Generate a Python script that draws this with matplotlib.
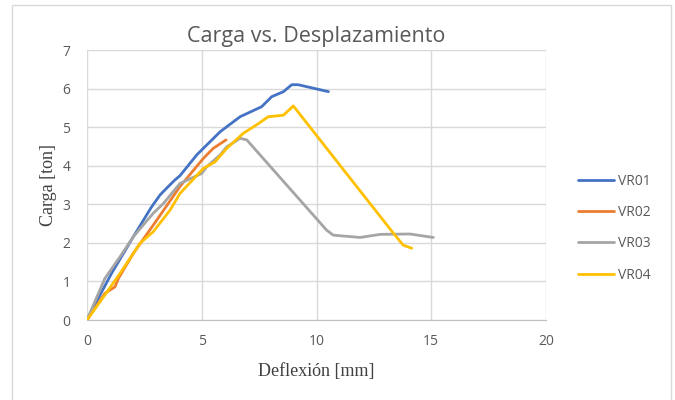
import matplotlib
matplotlib.use("Agg")
import matplotlib.pyplot as plt
from matplotlib.patches import Rectangle

# Load-deflection data per specimen (deflection in mm, load in ton)
vr01_x = [0.0, 0.57, 1.07, 2.02, 2.8, 3.18, 3.54, 3.83, 4.05, 4.78, 5.8, 6.67, 7.61, 8.05, 8.56, 8.92, 9.2, 10.52]
vr01_y = [0.0, 0.65, 1.21, 2.16, 2.92, 3.24, 3.46, 3.63, 3.74, 4.28, 4.88, 5.27, 5.53, 5.79, 5.92, 6.10, 6.10, 5.92]

vr02_x = [0.0, 0.78, 1.22, 1.37, 2.02, 3.04, 4.05, 5.07, 5.5, 6.06]
vr02_y = [0.0, 0.69, 0.86, 1.08, 1.73, 2.59, 3.46, 4.19, 4.45, 4.67]

vr03_x = [0.0, 0.78, 1.44, 2.02, 2.89, 3.33, 4.05, 5.0, 5.21, 5.8, 6.09, 6.67, 6.96, 10.44, 10.73, 11.9, 12.77, 14.07, 15.09]
vr03_y = [0.0, 1.08, 1.64, 2.16, 2.77, 3.02, 3.54, 3.80, 3.97, 4.28, 4.49, 4.71, 4.67, 2.33, 2.20, 2.14, 2.22, 2.23, 2.14]

vr04_x = [0.0, 0.78, 1.44, 2.31, 2.89, 3.62, 4.05, 5.07, 5.58, 6.09, 6.81, 7.39, 7.9, 8.56, 8.99, 13.35, 13.78, 14.15]
vr04_y = [0.0, 0.65, 1.21, 1.99, 2.29, 2.85, 3.28, 3.93, 4.10, 4.45, 4.84, 5.06, 5.27, 5.31, 5.55, 2.25, 1.94, 1.86]

series = [
    ("VR01", vr01_x, vr01_y, "#4472C4"),
    ("VR02", vr02_x, vr02_y, "#ED7D31"),
    ("VR03", vr03_x, vr03_y, "#A5A5A5"),
    ("VR04", vr04_x, vr04_y, "#FFC000"),
]

x_ticks = [0, 5, 10, 15, 20]
y_ticks = [0, 1, 2, 3, 4, 5, 6, 7]

fig = plt.figure(figsize=(6.75, 4.0), dpi=100)
fig.patches.append(Rectangle((12 / 675, -0.05), 659 / 675, 1.05 - 5 / 400,
                             transform=fig.transFigure, fill=False,
                             edgecolor="#D9D9D9", linewidth=1.0))

ax = fig.add_axes([87 / 675, 80 / 400, 459 / 675, 270 / 400])

for name, xs, ys, color in series:
    ax.plot(xs, ys, color=color, linewidth=2.0, label=name,
            solid_joinstyle="round", solid_capstyle="round")

ax.set_xlim(0, 20)
ax.set_ylim(0, 7)
ax.set_xticks(x_ticks)
ax.set_yticks(y_ticks)
ax.grid(True, color="#D9D9D9", linewidth=1.0)
ax.set_axisbelow(True)
for side in ("top", "right", "left"):
    ax.spines[side].set_visible(False)
ax.spines["bottom"].set_color("#BFBFBF")
ax.tick_params(length=0, labelsize=10, labelcolor="#595959")
ax.tick_params(axis="x", pad=10)
ax.tick_params(axis="y", pad=12)
for lbl in ax.get_xticklabels() + ax.get_yticklabels():
    lbl.set_family("Open Sans")

ax.set_title("Carga vs. Desplazamiento", fontsize=15.5, color="#595959",
             family="Open Sans", pad=6)
ax.set_xlabel("Deflexión [mm]", fontsize=13, family="Liberation Serif",
              color="#404040", labelpad=10)
ax.set_ylabel("Carga [ton]", fontsize=13, family="Liberation Serif",
              color="#404040", labelpad=4)

leg = ax.legend(loc="center left", bbox_to_anchor=(1.043, 0.34), frameon=False,
                prop={"family": "Open Sans", "size": 10}, labelcolor="#595959",
                handlelength=2.6, handletextpad=0.25, labelspacing=1.17)

fig.savefig("out.png", dpi=100)
